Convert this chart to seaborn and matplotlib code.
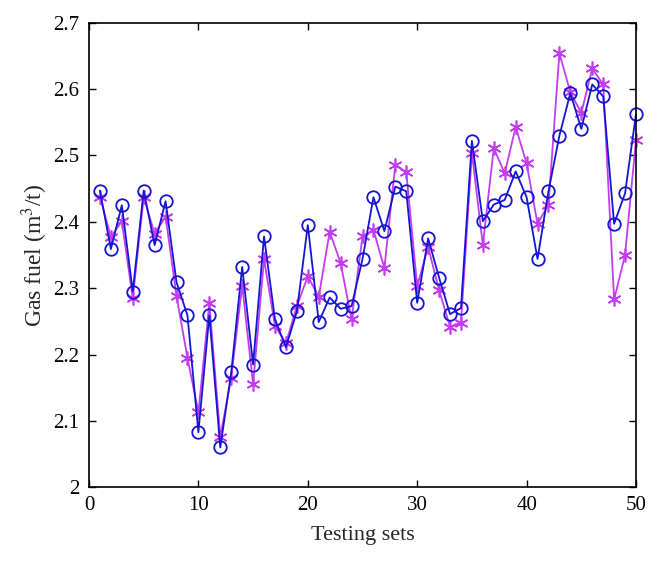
import matplotlib
matplotlib.use("Agg")
import matplotlib.pyplot as plt
import seaborn as sns
import pandas as pd
import numpy as np

sets = list(range(1, 51))
actual = [2.447, 2.359, 2.425, 2.295, 2.447, 2.365, 2.431, 2.309, 2.259, 2.083,
          2.259, 2.060, 2.173, 2.332, 2.185, 2.378, 2.253, 2.211, 2.265, 2.395,
          2.249, 2.286, 2.269, 2.273, 2.344, 2.437, 2.386, 2.453, 2.446, 2.278,
          2.375, 2.316, 2.261, 2.270, 2.522, 2.401, 2.426, 2.433, 2.476, 2.437,
          2.344, 2.446, 2.530, 2.594, 2.540, 2.607, 2.589, 2.397, 2.443, 2.562]
predicted = [2.438, 2.377, 2.401, 2.285, 2.437, 2.382, 2.408, 2.288, 2.195, 2.113,
             2.277, 2.076, 2.165, 2.304, 2.155, 2.344, 2.243, 2.217, 2.273, 2.318,
             2.287, 2.385, 2.338, 2.253, 2.378, 2.388, 2.330, 2.486, 2.475, 2.303,
             2.362, 2.297, 2.242, 2.248, 2.504, 2.365, 2.511, 2.473, 2.543, 2.488,
             2.397, 2.426, 2.654, 2.595, 2.564, 2.631, 2.607, 2.283, 2.350, 2.524]
xticks = [0, 10, 20, 30, 40, 50]
yticks = [2.0, 2.1, 2.2, 2.3, 2.4, 2.5, 2.6, 2.7]
ytick_labels = ["2", "2.1", "2.2", "2.3", "2.4", "2.5", "2.6", "2.7"]

df = pd.DataFrame({"set": sets, "actual": actual, "predicted": predicted})

sns.set_theme(style="ticks")
plt.rcParams["font.family"] = ["Liberation Serif", "DejaVu Serif"]
plt.rcParams["mathtext.fontset"] = "stix"

fig = plt.figure(figsize=(6.6, 5.63), dpi=100)
L, R, T, B = 89, 636, 22.7, 487.3
ax = fig.add_axes([L / 660, (563 - B) / 563, (R - L) / 660, (B - T) / 563])

blue = "#1414D2"
mag = "#C43CF0"

sns.lineplot(data=df, x="set", y="predicted", ax=ax, color=mag, lw=1.3,
             marker=(6, 2, 0), markersize=10, markeredgewidth=1.2,
             markeredgecolor=mag, clip_on=False)
sns.lineplot(data=df, x="set", y="actual", ax=ax, color=blue, lw=1.3,
             marker="o", markersize=9, markerfacecolor="none",
             markeredgewidth=1.3, markeredgecolor=blue, clip_on=False)

ax.set_xlim(0, 50)
ax.set_ylim(2.0, 2.7)
ax.set_xticks(xticks)
ax.set_xticklabels([str(t) for t in xticks])
ax.set_yticks(yticks)
ax.set_yticklabels(ytick_labels)
ax.tick_params(direction="in", length=5, width=1, labelsize=15,
               top=True, right=True, colors="black")
ax.tick_params(axis="y", pad=7)
ax.tick_params(axis="x", pad=6)
for s in ax.spines.values():
    s.set_visible(True)
    s.set_linewidth(1.2)
    s.set_color("black")
    s.set_zorder(5)
ax.set_xlabel("Testing sets", fontsize=16, labelpad=8)
ax.set_ylabel("Gas fuel (m$^3$/t)", fontsize=17, labelpad=2)

fig.savefig("out.png", dpi=100)
